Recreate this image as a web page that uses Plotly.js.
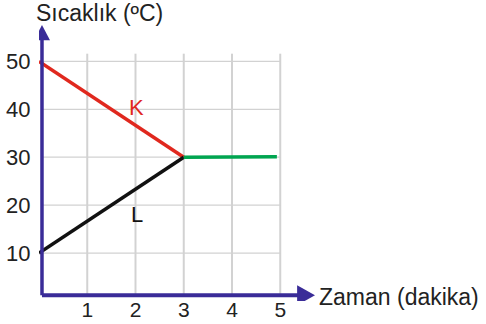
<!DOCTYPE html>
<html>
<head>
<meta charset="utf-8">
<script src="https://cdn.plot.ly/plotly-3.0.1.min.js"></script>
<style>
  html, body { margin: 0; padding: 0; background: #fff; }
  #chart { width: 486px; height: 324px; }
</style>
</head>
<body>
<div id="chart"></div>
<script>
// Temperature (°C) against time (minutes) for K and L
const kTime = [0, 3];
const kTemp = [50, 30];
const lTime = [0, 3];
const lTemp = [10, 30];
const mixTime = [3, 4.93];
const mixTemp = [30, 30.1];

const xTicks = [1, 2, 3, 4, 5];
const yTicks = [10, 20, 30, 40, 50];

const axisColor = '#3a2c98';
const gridColor = '#d2d2d2';
const font = { family: 'Liberation Sans, Arial, sans-serif', size: 22, color: '#222' };
const bigFont = { ...font, size: 23 };

// Grid only covers the drawn area, not the whole plot box
const shapes = [];
xTicks.forEach(x => shapes.push({
  type: 'line', xref: 'x', yref: 'y', layer: 'below',
  x0: x, x1: x, y0: 1.2, y1: 51.6,
  line: { color: gridColor, width: 2 }
}));
yTicks.forEach(y => shapes.push({
  type: 'line', xref: 'x', yref: 'y', layer: 'below',
  x0: 0.06, x1: 5.01, y0: y, y1: y,
  line: { color: gridColor, width: 1.2 }
}));

// Axes with arrowheads
shapes.push(
  { type: 'line', xref: 'x', yref: 'y', layer: 'above',
    x0: 0.062, x1: 0.062, y0: 1.2, y1: 54.6, line: { color: axisColor, width: 3.5 } },
  { type: 'line', xref: 'x', yref: 'y', layer: 'above',
    x0: 0.062, x1: 5.4, y0: 1.2, y1: 1.2, line: { color: axisColor, width: 4 } },
  { type: 'path', xref: 'x', yref: 'y', layer: 'above',
    path: 'M -0.104,54.4 L 0.228,54.4 L 0.062,57.6 Z',
    fillcolor: axisColor, line: { color: axisColor, width: 0 } },
  { type: 'path', xref: 'x', yref: 'y', layer: 'above',
    path: 'M 5.35,-0.9 L 5.35,3.3 L 5.72,1.2 Z',
    fillcolor: axisColor, line: { color: axisColor, width: 0 } }
);

const lineTrace = (x, y, color) => ({
  x, y, type: 'scatter', mode: 'lines', hoverinfo: 'skip',
  line: { color, width: 3.5 }
});

Plotly.newPlot('chart', [
  lineTrace(kTime, kTemp, '#e0281e'),
  lineTrace(lTime, lTemp, '#111111'),
  lineTrace(mixTime, mixTemp, '#00a550'),
], {
  width: 486,
  height: 324,
  margin: { l: 39, r: 166, t: 20, b: 23 },
  paper_bgcolor: '#fff',
  plot_bgcolor: '#fff',
  showlegend: false,
  font,
  xaxis: {
    range: [0, 5.824],
    tickvals: xTicks,
    ticktext: xTicks.map(String),
    showgrid: false, zeroline: false, showline: false,
    ticks: '', ticklabelstandoff: -6,
    tickfont: { ...font, size: 21 }
  },
  yaxis: {
    range: [0, 58.63],
    tickvals: yTicks,
    ticktext: yTicks.map(String),
    showgrid: false, zeroline: false, showline: false,
    ticks: 'outside', ticklen: 3, tickcolor: 'rgba(0,0,0,0)',
    tickfont: font
  },
  shapes,
  annotations: [
    { xref: 'paper', yref: 'paper', x: -0.018, y: 1.025, xanchor: 'left', yanchor: 'middle',
      text: 'Sıcaklık (ºC)', showarrow: false, font: bigFont },
    { xref: 'paper', yref: 'paper', x: 0.99, y: 0.014, xanchor: 'left', yanchor: 'middle',
      text: 'Zaman (dakika)', showarrow: false, font: bigFont },
    { xref: 'x', yref: 'y', x: 2.03, y: 40.4, text: 'K', showarrow: false,
      font: { ...font, color: '#e0281e' } },
    { xref: 'x', yref: 'y', x: 2.04, y: 18, text: 'L', showarrow: false,
      font: { ...font, color: '#111111' } }
  ]
}, { staticPlot: true });
</script>
</body>
</html>
